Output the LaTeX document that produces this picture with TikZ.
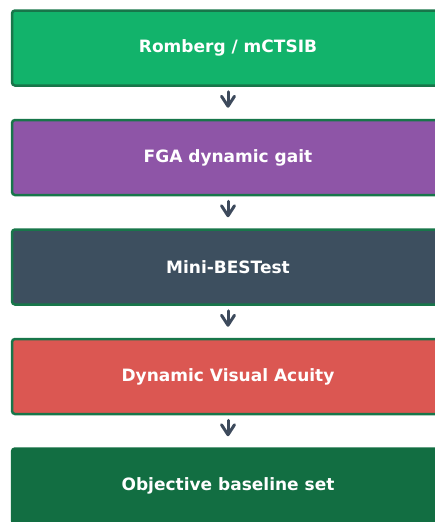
\documentclass[tikz,border=0pt]{standalone}
\usepackage{fontspec}
\setmainfont{DejaVu Sans}
\usetikzlibrary{positioning,arrows.meta}

\definecolor{edgegreen}{HTML}{18764A}
\definecolor{rombergfill}{HTML}{12B36B}
\definecolor{fgafill}{HTML}{8E55A7}
\definecolor{minifill}{HTML}{3D4F5F}
\definecolor{dvafill}{HTML}{DB5752}
\definecolor{basefill}{HTML}{126E42}
\definecolor{arrowslate}{HTML}{3D4A5C}

\begin{document}
\begin{tikzpicture}
\tikzset{
    stage/.style={draw=edgegreen, line width=2.5pt, rounded corners=3pt,
        minimum width=432pt, minimum height=75pt, text=white,
        font=\bfseries\fontsize{17pt}{20pt}\selectfont},
    flow/.style={draw=arrowslate, line width=3pt, line cap=round,
        -{Straight Barb[length=10pt,width=13pt,line width=3pt,round]}},
    node distance=32pt}
\def\gapin{5pt}

\useasboundingbox (0,0) rectangle (434pt,-522pt);

\node[stage, fill=rombergfill] (romberg) at (228pt,-48pt) {Romberg / mCTSIB};
\node[stage, fill=fgafill, below=of romberg] (fga) {FGA dynamic gait};
\node[stage, fill=minifill, below=of fga] (minibest) {Mini-BESTest};
\node[stage, fill=dvafill, below=of minibest] (dva) {Dynamic Visual Acuity};
\node[stage, fill=basefill, draw=basefill, below=of dva] (baseline) {Objective baseline set};

\foreach \a/\b in {romberg/fga,fga/minibest,minibest/dva,dva/baseline}{
    \draw[flow] ([yshift=-\gapin]\a.south)--([yshift=11pt]\b.north);
}
\end{tikzpicture}
\end{document}
